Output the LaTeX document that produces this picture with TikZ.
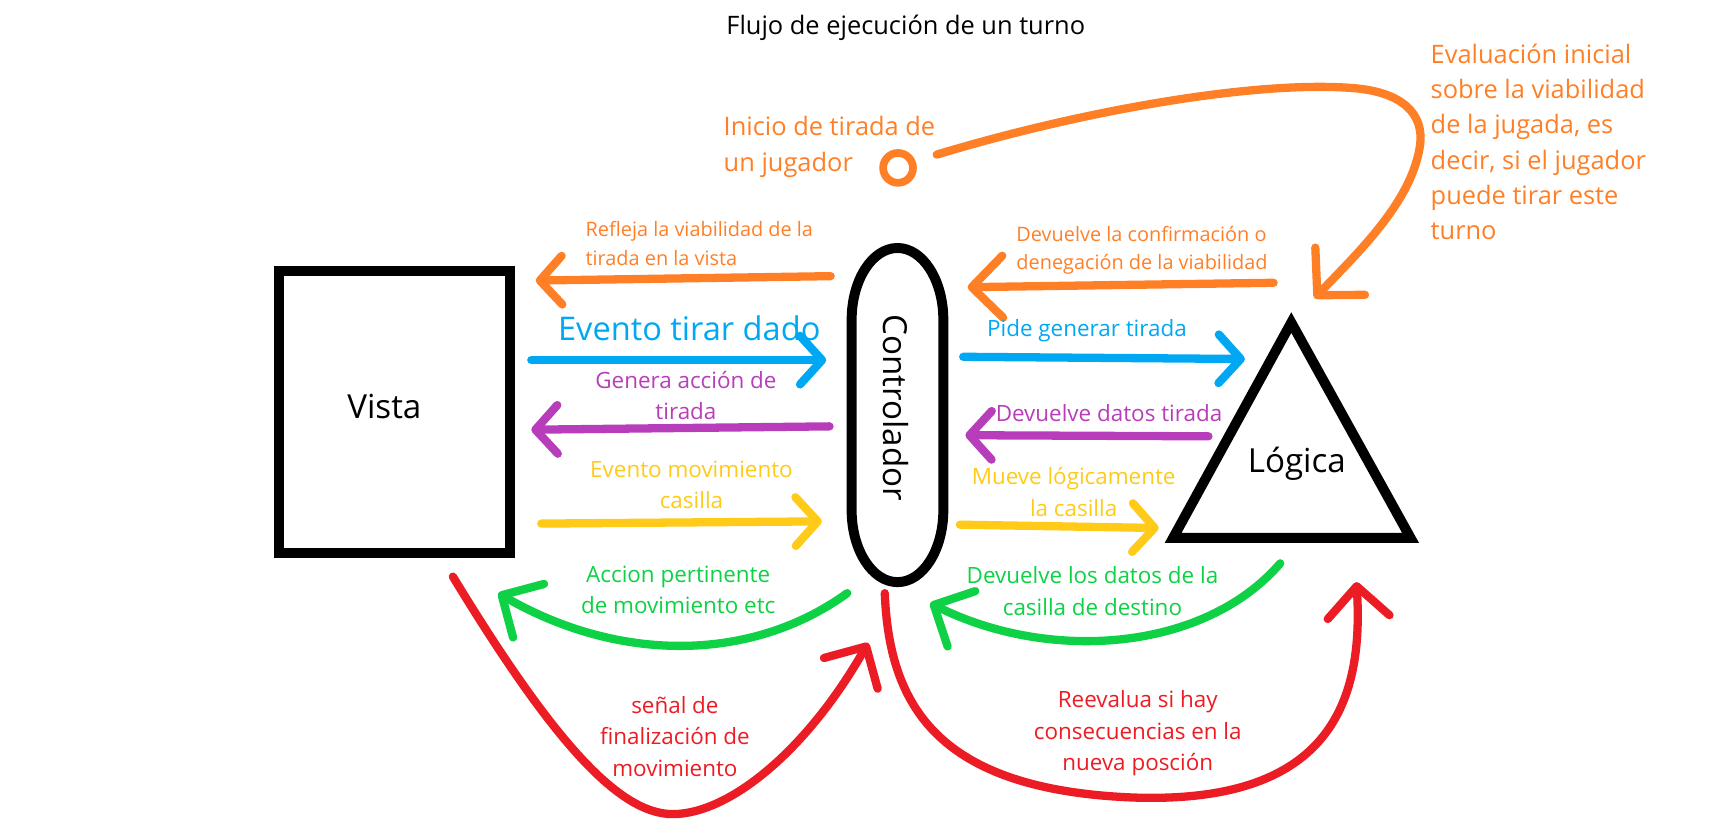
\documentclass[tikz,border=0pt]{standalone}
\usepackage{fontspec}
\setmainfont{Open Sans}
\usetikzlibrary{arrows.meta}
\definecolor{cOrange}{HTML}{FF7F27}
\definecolor{cBlue}{HTML}{00A8F3}
\definecolor{cPurple}{HTML}{B83DBA}
\definecolor{cYellow}{HTML}{FFCA18}
\definecolor{cGreen}{HTML}{0ED145}
\definecolor{cRed}{HTML}{EC1C24}
\begin{document}
\begin{tikzpicture}[x=1pt,y=-1pt,
  conn/.style={line width=7.5pt,line cap=round,line join=round,
    -{Straight Barb[length=20pt,width=44pt,round]}},
  bigconn/.style={line width=7.5pt,line cap=round,line join=round,
    -{Straight Barb[length=28pt,width=56pt,round]}},
  shapeline/.style={draw=black,line width=9pt},
  txt/.style={inner sep=0pt,align=center},
  small/.style={font=\fontsize{18}{26}\selectfont},
  mid/.style={font=\fontsize{20.3}{28.5}\selectfont},
  large/.style={font=\fontsize{23}{32}\selectfont},
  huge/.style={font=\fontsize{30}{36}\selectfont}]
\useasboundingbox (0,0) rectangle (1568,744);

% title
\node[txt,large] (title) at (820,25) {Flujo de ejecución de un turno};

% main shapes
\node[shapeline,rectangle,minimum width=209pt,minimum height=255pt,inner sep=0pt] (vista) at (357.2,373) {};
\node[txt,huge] (vistatxt) at (348,368) {Vista};

\draw[shapeline] (771,289.5) .. controls (771,253.6) and (789.6,224.5) .. (812.5,224.5)
  .. controls (835.4,224.5) and (854,253.6) .. (854,289.5) -- (854,462)
  .. controls (854,497.9) and (835.4,527) .. (812.5,527)
  .. controls (789.6,527) and (771,497.9) .. (771,462) -- cycle;
\node[txt,huge,rotate=-90] (ctrl) at (811,369) {Controlador};

\coordinate (tA) at (1169,292);
\coordinate (tB) at (1062,487);
\coordinate (tC) at (1277,487);
\draw[shapeline,line join=miter] (tA) -- (tB) -- (tC) -- cycle;
\node[txt,huge] (logica) at (1174,420) {Lógica};

% start circle and top texts
\node[circle,draw=cOrange,line width=7pt,minimum size=27pt,inner sep=0pt] (start) at (813,152) {};
\node[txt,large,text=cOrange,align=left,anchor=west] (inicio) at (655,133) {Inicio de tirada de\\un jugador};
\node[txt,large,text=cOrange,align=left,anchor=west] (evalu) at (1295,128.5) {Evaluación inicial\\sobre la viabilidad\\de la jugada, es\\decir, si el jugador\\puede tirar este\\turno};

\coordinate (o0s) at (848,140);
\coordinate (o0t) at (1190,270);
\draw[bigconn,draw=cOrange,-{Straight Barb[length=30pt,width=62pt,round]}] (o0s)
  .. controls (980,100) and (1140,72) .. (1228,80)
  .. controls (1278,85) and (1290,110) .. (1285,135)
  .. controls (1276,185) and (1228,230) .. (o0t);

% left side arrows
\coordinate (o1s) at (752,250); \coordinate (o1t) at (485,254);
\draw[conn,draw=cOrange] (o1s) -- (o1t);
\node[txt,small,text=cOrange,align=left,anchor=west] (o1l) at (530,220.5) {Refleja la viabilidad de la\\tirada en la vista};

\coordinate (b1s) at (481,326); \coordinate (b1t) at (748,326);
\draw[conn,draw=cBlue] (b1s) -- (b1t);
\node[txt,text=cBlue,font=\fontsize{29.5}{34}\selectfont] (b1l) at (624,297) {Evento tirar dado};

\coordinate (p1s) at (751,386); \coordinate (p1t) at (481,389);
\draw[conn,draw=cPurple] (p1s) -- (p1t);
\node[txt,mid,text=cPurple] (p1l) at (621,358) {Genera acción de\\tirada};

\coordinate (y1s) at (490,474); \coordinate (y1t) at (744,472);
\draw[conn,draw=cYellow] (y1s) -- (y1t);
\node[txt,mid,text=cYellow] (y1l) at (626,439) {Evento movimiento\\casilla};

% right side arrows
\coordinate (o2s) at (1153,256); \coordinate (o2t) at (876,260);
\draw[bigconn,draw=cOrange] (o2s) -- (o2t);
\node[txt,small,text=cOrange,align=left,anchor=west] (o2l) at (920,226.5) {Devuelve la confirmación o\\denegación de la viabilidad};

\coordinate (b2s) at (872,323); \coordinate (b2t) at (1127,325);
\draw[conn,draw=cBlue] (b2s) -- (b2t);
\node[txt,mid,text=cBlue] (b2l) at (984,299) {Pide generar tirada};

\coordinate (p2s) at (1094,395); \coordinate (p2t) at (874,394);
\draw[conn,draw=cPurple] (p2s) -- (p2t);
\node[txt,mid,text=cPurple] (p2l) at (1004,374) {Devuelve datos tirada};

\coordinate (y2s) at (869,475); \coordinate (y2t) at (1049,478);
\draw[conn,draw=cYellow] (y2s) -- (y2t);
\node[txt,mid,text=cYellow] (y2l) at (972,445.5) {Mueve lógicamente\\la casilla};

% green curved arrows
\coordinate (g1s) at (767,537); \coordinate (g1t) at (451,537);
\draw[bigconn,draw=cGreen] (g1s) .. controls (680,600) and (560,600) .. (g1t);
\node[txt,mid,text=cGreen] (g1l) at (614,534) {Accion pertinente\\de movimiento etc};

\coordinate (g2s) at (1159,510); \coordinate (g2t) at (842,546);
\draw[bigconn,draw=cGreen] (g2s) .. controls (1090,590) and (950,600) .. (g2t);
\node[txt,mid,text=cGreen] (g2l) at (989,535) {Devuelve los datos de la\\casilla de destino};

% red curved arrows
\coordinate (r1s) at (410,522); \coordinate (r1t) at (786,582);
\draw[bigconn,draw=cRed] (r1s) .. controls (500,670) and (560,737) .. (609,737)
  .. controls (660,737) and (730,680) .. (r1t);
\node[txt,mid,text=cRed] (r1l) at (611,666.5) {señal de\\finalización de\\movimiento};

\coordinate (r2s) at (801,537); \coordinate (r2t) at (1228,527);
\draw[bigconn,draw=cRed] (r2s) .. controls (805,640) and (850,715) .. (1026,722)
  .. controls (1200,728) and (1235,640) .. (r2t);
\node[txt,mid,text=cRed] (r2l) at (1030,664) {Reevalua si hay\\consecuencias en la\\nueva posción};
\end{tikzpicture}
\end{document}
